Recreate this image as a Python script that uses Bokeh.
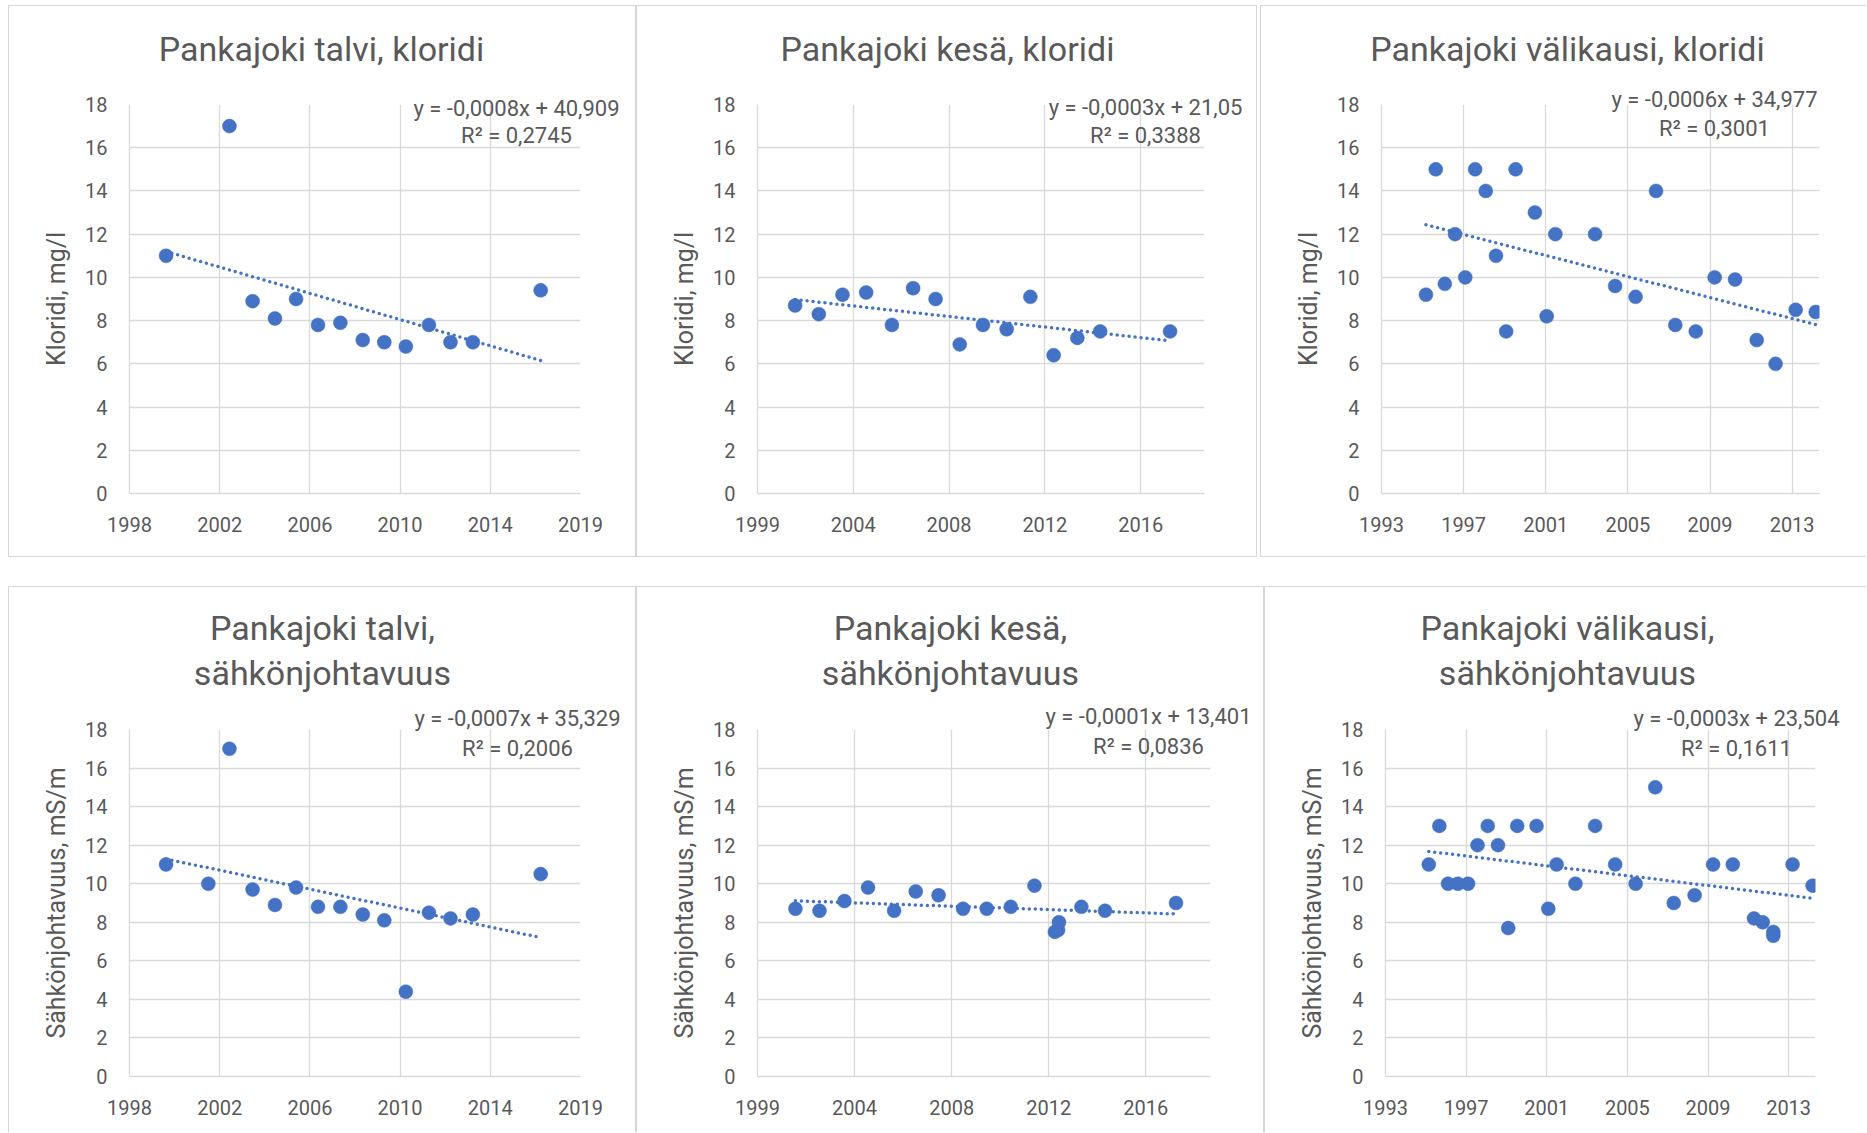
import numpy as np
from bokeh.plotting import figure
from bokeh.models import Range1d, FixedTicker, Label, Spacer, CustomJSTickFormatter
from bokeh.layouts import row, column
from bokeh.embed import file_html
from bokeh.resources import INLINE

# ---------------- data (x = Excel serial day numbers, as in the source workbook) -------------
talvi_kloridi_x = [36608, 37662, 38047, 38419, 38770, 39135, 39507, 39879, 40237, 40595, 40980, 41338, 41710, 42838]
talvi_kloridi_y = [11.0, 17.0, 8.9, 8.1, 9.0, 7.8, 7.9, 7.1, 7.0, 6.8, 7.8, 7.0, 7.0, 9.4]

kesa_kloridi_x = [37089, 37460, 37831, 38202, 38605, 38937, 39289, 39667, 40031, 40402, 40773, 41138, 41509, 41867, 42961]
kesa_kloridi_y = [8.7, 8.3, 9.2, 9.3, 7.8, 9.5, 9.0, 6.9, 7.8, 7.6, 9.1, 6.4, 7.2, 7.5, 7.5]

valikausi_kloridi_x = [34812, 34991, 35157, 35343, 35530, 35710, 35904, 36091, 36277, 36450, 36802, 37017, 37175,
                       37901, 38267, 38641, 39014, 39366, 39740, 40085, 40458, 40853, 41198, 41565, 41931]
valikausi_kloridi_y = [9.2, 15.0, 9.7, 12.0, 10.0, 15.0, 14.0, 11.0, 7.5, 15.0, 13.0, 8.2, 12.0,
                       12.0, 9.6, 9.1, 14.0, 7.8, 7.5, 10.0, 9.9, 7.1, 6.0, 8.5, 8.4]

talvi_sahko_x = [36608, 37311, 37662, 38047, 38419, 38770, 39135, 39507, 39879, 40237, 40595, 40980, 41338, 41710, 42838]
talvi_sahko_y = [11.0, 10.0, 17.0, 9.7, 8.9, 9.8, 8.8, 8.8, 8.4, 8.1, 4.4, 8.5, 8.2, 8.4, 10.5]

kesa_sahko_x = [37086, 37458, 37843, 38208, 38611, 38945, 39298, 39676, 40042, 40414, 40780, 41095, 41145, 41158,
                41505, 41870, 42967]
kesa_sahko_y = [8.7, 8.6, 9.1, 9.8, 8.6, 9.6, 9.4, 8.7, 8.7, 8.8, 9.9, 7.5, 7.6, 8.0, 8.8, 8.6, 9.0]

valikausi_sahko_x = [34805, 35002, 35163, 35346, 35536, 35712, 35902, 36093, 36283, 36451, 36810, 37029, 37183, 37534,
                     37900, 38273, 38654, 39019, 39363, 39751, 40095, 40461, 40856, 41017, 41215, 41215, 41573, 41946]
valikausi_sahko_y = [11.0, 13.0, 10.0, 10.0, 10.0, 12.0, 13.0, 12.0, 7.7, 13.0, 13.0, 8.7, 11.0, 10.0,
                     13.0, 11.0, 10.0, 15.0, 9.0, 9.4, 11.0, 11.0, 8.2, 8.0, 7.5, 7.3, 11.0, 9.9]

# axis bounds and ticks
talvi_x_bounds = [36000, 43500]
talvi_ticks = [36000, 37500, 39000, 40500, 42000, 43500]
talvi_tick_labels = ["1998", "2002", "2006", "2010", "2014", "2019"]
kesa_x_bounds = [36500, 43500]
kesa_ticks = [36500, 38000, 39500, 41000, 42500]
kesa_tick_labels = ["1999", "2004", "2008", "2012", "2016"]
valikausi_x_bounds = [34000, 42000]
valikausi_ticks = [34000, 35500, 37000, 38500, 40000, 41500]
valikausi_tick_labels = ["1993", "1997", "2001", "2005", "2009", "2013"]
y_bounds = [0, 18]
y_ticks = [0, 2, 4, 6, 8, 10, 12, 14, 16, 18]

# texts
titles = [
    ["Pankajoki talvi, kloridi"],
    ["Pankajoki kesä, kloridi"],
    ["Pankajoki välikausi, kloridi"],
    ["Pankajoki talvi,", "sähkönjohtavuus"],
    ["Pankajoki kesä,", "sähkönjohtavuus"],
    ["Pankajoki välikausi,", "sähkönjohtavuus"],
]
equations = ["y = -0,0008x + 40,909", "y = -0,0003x + 21,05", "y = -0,0006x + 34,977",
             "y = -0,0007x + 35,329", "y = -0,0001x + 13,401", "y = -0,0003x + 23,504"]
r_squared = ["R² = 0,2745", "R² = 0,3388", "R² = 0,3001", "R² = 0,2006", "R² = 0,0836", "R² = 0,1611"]
y_labels = ["Kloridi, mg/l", "Kloridi, mg/l", "Kloridi, mg/l",
            "Sähkönjohtavuus, mS/m", "Sähkönjohtavuus, mS/m", "Sähkönjohtavuus, mS/m"]

# ---------------- style / layout -------------
FONT = "Roboto"
TEXT = "#595959"
GRID = "#d9d9d9"
BLUE = "#4472C4"
EDGE = "#d6d6d6"

SH_ALL = f"inset 1px 1px 0 0 {EDGE}, inset -1px -1px 0 0 {EDGE}"
SH_LTB = f"inset 1px 1px 0 0 {EDGE}, inset 0 -1px 0 0 {EDGE}"
SH_LT = f"inset 1px 1px 0 0 {EDGE}"
SH_LTR = f"inset 1px 1px 0 0 {EDGE}, inset -1px 0 0 0 {EDGE}"

# geometry: canvas size, frame borders, title rows (x, y), equation rows (x, y1, y2)
geom = [
    dict(w=628, h=552, l=121, r=56, t=99, b=64, tx=313, ty=[43], ex=508, ey=[103, 130], sh=SH_ALL),
    dict(w=621, h=552, l=121, r=53, t=99, b=64, tx=311, ty=[43], ex=509, ey=[102, 130], sh=SH_ALL),
    dict(w=606, h=552, l=121, r=47, t=99, b=64, tx=307, ty=[43], ex=454, ey=[94, 123], sh=SH_LTB),
    dict(w=628, h=546, l=121, r=56, t=143, b=56, tx=314, ty=[41, 86], ex=509, ey=[132, 162], sh=SH_LTR),
    dict(w=628, h=546, l=121, r=54, t=143, b=56, tx=314, ty=[41, 86], ex=512, ey=[130, 160], sh=SH_LTR),
    dict(w=602, h=546, l=121, r=51, t=143, b=56, tx=303, ty=[41, 86], ex=472, ey=[132, 162], sh=SH_LT),
]

series = [
    (talvi_kloridi_x, talvi_kloridi_y, talvi_x_bounds, talvi_ticks, talvi_tick_labels),
    (kesa_kloridi_x, kesa_kloridi_y, kesa_x_bounds, kesa_ticks, kesa_tick_labels),
    (valikausi_kloridi_x, valikausi_kloridi_y, valikausi_x_bounds, valikausi_ticks, valikausi_tick_labels),
    (talvi_sahko_x, talvi_sahko_y, talvi_x_bounds, talvi_ticks, talvi_tick_labels),
    (kesa_sahko_x, kesa_sahko_y, kesa_x_bounds, kesa_ticks, kesa_tick_labels),
    (valikausi_sahko_x, valikausi_sahko_y, valikausi_x_bounds, valikausi_ticks, valikausi_tick_labels),
]


def make_chart(i):
    xs, ys, xb, ticks, tlabels = series[i]
    g = geom[i]
    p = figure(width=g["w"], height=g["h"], x_range=Range1d(*xb), y_range=Range1d(*y_bounds),
               output_backend="svg", toolbar_location=None,
               min_border_left=g["l"], min_border_right=g["r"],
               min_border_top=g["t"], min_border_bottom=g["b"],
               border_fill_color=None, background_fill_color="white",
               outline_line_color=None, styles={"box-shadow": g["sh"]})

    xt = FixedTicker(ticks=ticks)
    yt = FixedTicker(ticks=y_ticks)
    p.xaxis.ticker = xt
    p.yaxis.ticker = yt
    p.xgrid.ticker = xt
    p.ygrid.ticker = yt
    p.xaxis.formatter = CustomJSTickFormatter(
        args=dict(tick_values=ticks, tick_texts=tlabels),
        code="const j = tick_values.indexOf(tick); return j >= 0 ? tick_texts[j] : '';")

    for ax in (p.xaxis[0], p.yaxis[0]):
        ax.axis_line_color = GRID
        ax.axis_line_width = 1.3
        ax.major_tick_line_color = None
        ax.minor_tick_line_color = None
        ax.major_tick_out = 0
        ax.major_tick_in = 0
        ax.minor_tick_out = 0
        ax.minor_tick_in = 0
        ax.major_label_text_font = FONT
        ax.major_label_text_font_size = "20px"
        ax.major_label_text_color = TEXT
    p.xaxis.major_label_standoff = 23
    p.yaxis.major_label_standoff = 22

    p.yaxis.axis_label = y_labels[i]
    p.yaxis.axis_label_text_font = FONT
    p.yaxis.axis_label_text_font_size = "25px"
    p.yaxis.axis_label_text_font_style = "normal"
    p.yaxis.axis_label_text_color = TEXT
    p.yaxis.axis_label_standoff = 11

    for grid in (p.xgrid[0], p.ygrid[0]):
        grid.grid_line_color = GRID
        grid.grid_line_width = 1.3

    p.scatter(xs, ys, size=14, fill_color=BLUE, line_color=BLUE, line_width=0.5)

    coef = np.polyfit(np.array(xs, dtype=float), np.array(ys, dtype=float), 1)
    tx = [min(xs), max(xs)]
    ty = list(np.polyval(coef, tx))
    p.line(tx, ty, line_color=BLUE, line_width=3.5, line_dash="0 6", line_cap="round")

    for k, line in enumerate(titles[i]):
        p.add_layout(Label(x=g["tx"], y=g["ty"][k], x_units="canvas", y_units="canvas",
                           text=line, text_align="center", text_baseline="middle",
                           text_font=FONT, text_font_size="34px", text_color=TEXT), "above")
    for k, line in enumerate([equations[i], r_squared[i]]):
        p.add_layout(Label(x=g["ex"], y=g["ey"][k], x_units="canvas", y_units="canvas",
                           text=line, text_align="center", text_baseline="middle",
                           text_font=FONT, text_font_size="22px", text_color=TEXT), "above")
    return p


charts = [make_chart(i) for i in range(6)]

layout = column(
    row(charts[0], charts[1], Spacer(width=3, height=552), charts[2]),
    Spacer(width=10, height=29),
    row(charts[3], charts[4], charts[5]),
    margin=(5, 0, 0, 8),
)

open("out.html", "w").write(file_html(layout, INLINE))
